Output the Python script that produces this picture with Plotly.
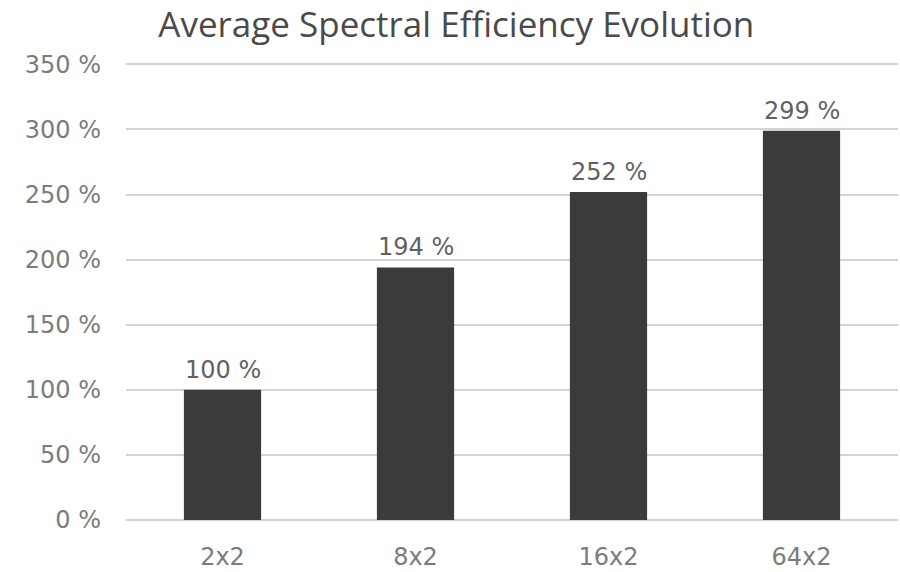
import plotly.graph_objects as go

categories = ["2x2", "8x2", "16x2", "64x2"]
efficiency = [100, 194, 252, 299]
tick_values = [0, 50, 100, 150, 200, 250, 300, 350]
tick_labels = [f"{v} %" for v in tick_values]

label_font = "DejaVu Sans"
title_font = "Open Sans"

fig = go.Figure(
    go.Bar(
        x=categories,
        y=efficiency,
        marker=dict(color="#3b3b3b", line=dict(width=0)),
        hoverinfo="x+y",
    )
)

# value labels above each bar
for cat, val in zip(categories, efficiency):
    fig.add_annotation(
        x=cat,
        y=val,
        text=f"{val} %",
        showarrow=False,
        yanchor="bottom",
        yshift=4,
        font=dict(family=label_font, size=24, color="#626262"),
    )

fig.update_layout(
    width=900,
    height=572,
    margin=dict(l=126, r=2, t=63, b=52),
    paper_bgcolor="white",
    plot_bgcolor="white",
    bargap=0.6,
    showlegend=False,
    title=dict(
        text="Average Spectral Efficiency Evolution",
        x=0.507,
        xanchor="center",
        y=0.957,
        yanchor="middle",
        font=dict(family=title_font, size=35, color="#4a4a4a"),
    ),
    xaxis=dict(
        showgrid=False,
        showline=False,
        tickfont=dict(family=label_font, size=24, color="#7c7c7c"),
        ticklabelstandoff=20,
    ),
    yaxis=dict(
        range=[0, 351],
        tickvals=tick_values,
        ticktext=tick_labels,
        showgrid=True,
        gridcolor="#d4d4d4",
        gridwidth=1.5,
        zeroline=True,
        zerolinecolor="#d4d4d4",
        zerolinewidth=1.5,
        showline=False,
        tickfont=dict(family=label_font, size=24, color="#7c7c7c"),
        ticklabelstandoff=24,
    ),
)

fig.write_html("out.html")
